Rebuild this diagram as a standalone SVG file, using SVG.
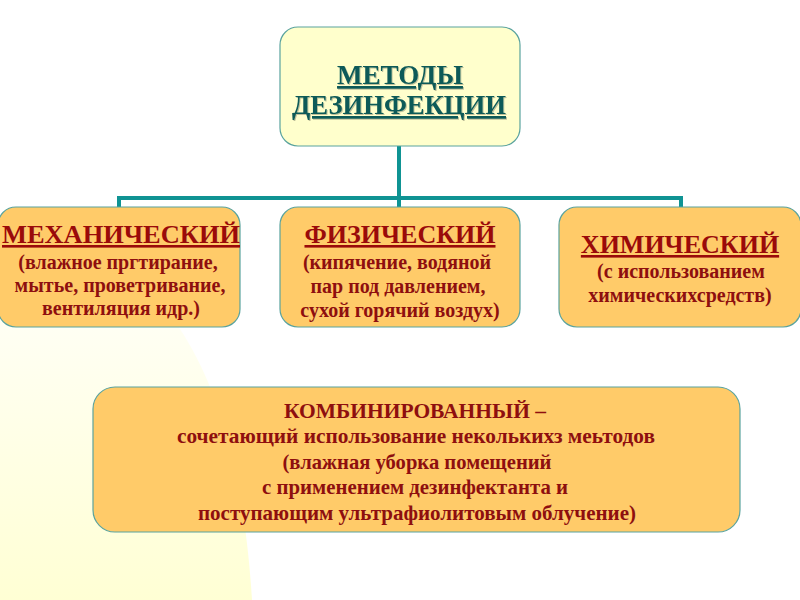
<svg xmlns="http://www.w3.org/2000/svg" width="800" height="600" viewBox="0 0 800 600">
  <defs>
    <linearGradient id="bgGrad" x1="0" y1="0" x2="0" y2="1">
      <stop offset="0" stop-color="#ffffff"/>
      <stop offset="0.3" stop-color="#fffff4"/>
      <stop offset="1" stop-color="#ffffd4"/>
    </linearGradient>
    <filter id="shadow" x="-10%" y="-10%" width="120%" height="130%">
      <feDropShadow dx="1" dy="1" stdDeviation="0.6" flood-color="#000000" flood-opacity="0.25"/>
    </filter>
  </defs>
  <style>
    .box { fill: #ffcb69; stroke: #5aa39e; stroke-width: 1.2; }
    .top { fill: #ffffcc; stroke: #5aa39e; stroke-width: 1.2; }
    .conn { fill: none; stroke: #0f9393; stroke-width: 4; stroke-linejoin: miter; }
    .t { font-family: "Liberation Serif", "Times New Roman", serif; font-weight: bold; text-anchor: middle; }
    .title { font-size: 26px; fill: #9a0a0a; text-decoration: underline; }
    .head { font-size: 27px; fill: #0c5a58; text-decoration: underline; }
    .sub { font-size: 20px; fill: #8e0f0f; }
    .comb { font-size: 21px; fill: #8e0f0f; }
  </style>

  <rect x="0" y="0" width="800" height="600" fill="#ffffff"/>
  <path d="M0,200 C140,250 235,330 252,600 L0,600 Z" fill="url(#bgGrad)"/>

  <g id="connectors">
    <path class="conn" d="M399,146 V198"/>
    <path class="conn" d="M119,208 V198 H681 V208"/>
    <path class="conn" d="M399,198 V208"/>
  </g>

  <g id="node-methods">
    <rect class="top" x="280" y="27" width="240" height="119" rx="18"/>
    <text class="t head" x="400" y="84" filter="url(#shadow)">МЕТОДЫ </text>
    <text class="t head" x="399" y="114" filter="url(#shadow)" textLength="214" lengthAdjust="spacingAndGlyphs">ДЕЗИНФЕКЦИИ</text>
  </g>

  <g id="node-mechanical">
    <rect class="box" x="-2" y="207" width="242" height="120" rx="18"/>
    <text class="t title" x="121" y="243" textLength="238" lengthAdjust="spacingAndGlyphs">МЕХАНИЧЕСКИЙ</text>
    <text class="t sub" x="118" y="269">(влажное пргтирание,</text>
    <text class="t sub" x="120" y="292">мытье, проветривание,</text>
    <text class="t sub" x="121" y="315">вентиляция идр.)</text>
  </g>

  <g id="node-physical">
    <rect class="box" x="280" y="207" width="240" height="120" rx="18"/>
    <text class="t title" x="400" y="243">ФИЗИЧЕСКИЙ</text>
    <text class="t sub" x="397" y="269">(кипячение, водяной</text>
    <text class="t sub" x="398" y="293">пар под давлением,</text>
    <text class="t sub" x="400" y="317">сухой горячий воздух)</text>
  </g>

  <g id="node-chemical">
    <rect class="box" x="559" y="207" width="242" height="120" rx="18"/>
    <text class="t title" x="680" y="253">ХИМИЧЕСКИЙ</text>
    <text class="t sub" x="681" y="278">(с использованием</text>
    <text class="t sub" x="680" y="302">химическихсредств)</text>
  </g>

  <g id="node-combined">
    <rect class="box" x="93" y="387" width="647" height="145" rx="22"/>
    <text class="t comb" x="415" y="418" textLength="262" lengthAdjust="spacingAndGlyphs">КОМБИНИРОВАННЫЙ –</text>
    <text class="t comb" x="416" y="443" textLength="478" lengthAdjust="spacingAndGlyphs">сочетающий  использование  некольких&#x0437;  меьтодов</text>
    <text class="t comb" x="417" y="469" textLength="269" lengthAdjust="spacingAndGlyphs">(влажная уборка помещений</text>
    <text class="t comb" x="415" y="494" textLength="306" lengthAdjust="spacingAndGlyphs">с применением  дезинфектанта  и</text>
    <text class="t comb" x="417" y="520" textLength="438" lengthAdjust="spacingAndGlyphs">поступающим  ультрафиолитовым  облучение)</text>
  </g>
</svg>
